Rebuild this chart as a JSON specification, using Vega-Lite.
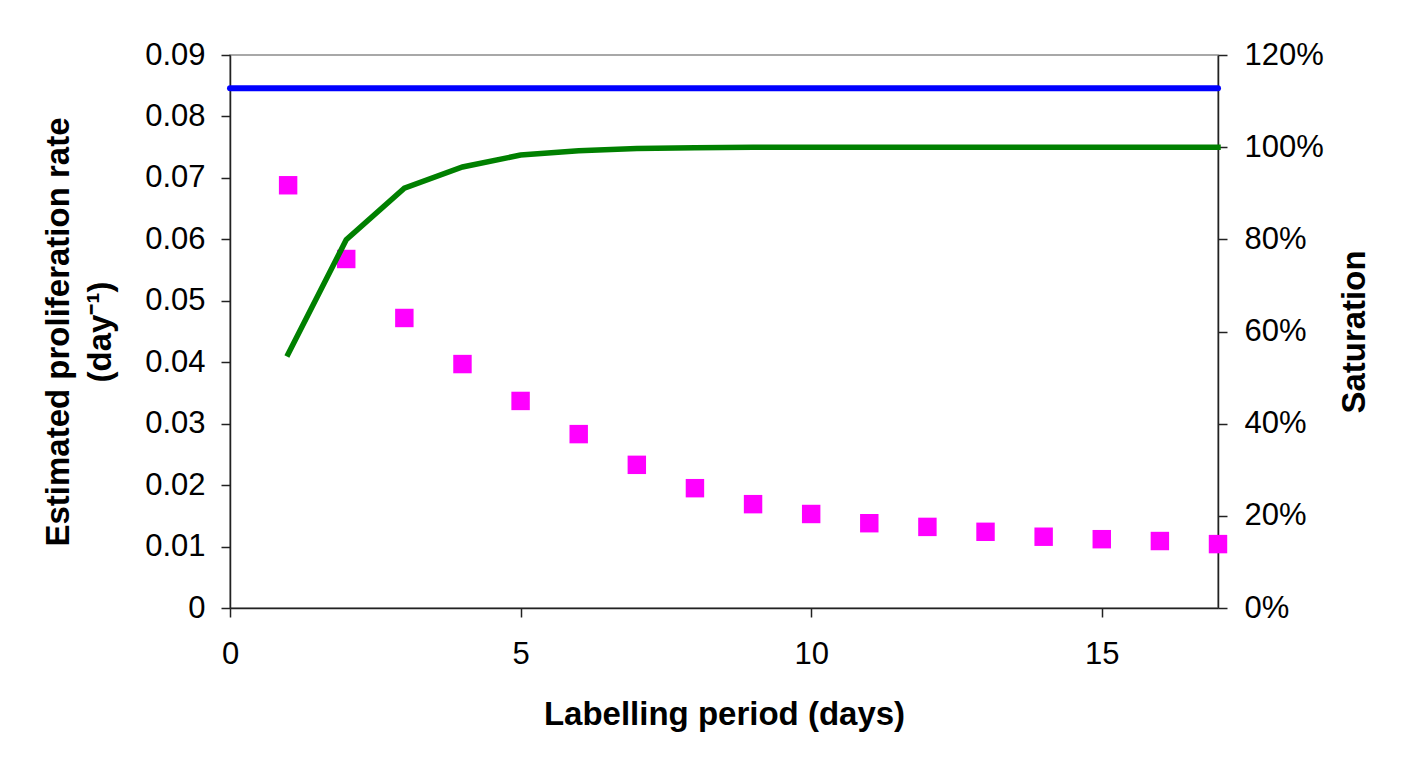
{
  "$schema": "https://vega.github.io/schema/vega-lite/v6.json",
  "autosize": "none",
  "width": 988,
  "height": 553,
  "padding": {"left": 230, "top": 55, "right": 192, "bottom": 153},
  "background": "white",
  "config": {
    "font": "Liberation Sans",
    "view": {"stroke": "#8c8c8c", "strokeWidth": 1.5},
    "axis": {
      "labelFont": "Liberation Sans",
      "labelFontSize": 31,
      "labelColor": "black",
      "titleFont": "Liberation Sans",
      "titleFontSize": 33,
      "titleFontWeight": "bold",
      "titleColor": "black",
      "domainColor": "#222222",
      "domainWidth": 1.5,
      "tickColor": "#222222",
      "tickWidth": 1.5,
      "tickSize": 9,
      "grid": false
    }
  },
  "datasets": {
    "main": [
      {"day": 1, "rate": 0.0688, "saturation": 0.551},
      {"day": 2, "rate": 0.0568, "saturation": 0.799},
      {"day": 3, "rate": 0.0472, "saturation": 0.911},
      {"day": 4, "rate": 0.0397, "saturation": 0.957},
      {"day": 5, "rate": 0.0337, "saturation": 0.983},
      {"day": 6, "rate": 0.0283, "saturation": 0.992},
      {"day": 7, "rate": 0.0233, "saturation": 0.997},
      {"day": 8, "rate": 0.0195, "saturation": 0.999},
      {"day": 9, "rate": 0.0169, "saturation": 1.0},
      {"day": 10, "rate": 0.0153, "saturation": 1.0},
      {"day": 11, "rate": 0.0138, "saturation": 1.0},
      {"day": 12, "rate": 0.0132, "saturation": 1.0},
      {"day": 13, "rate": 0.0124, "saturation": 1.0},
      {"day": 14, "rate": 0.0116, "saturation": 1.0},
      {"day": 15, "rate": 0.0112, "saturation": 1.0},
      {"day": 16, "rate": 0.0109, "saturation": 1.0},
      {"day": 17, "rate": 0.0104, "saturation": 1.0}
    ],
    "baseline": [{"rate": 0.0846}]
  },
  "layer": [
    {
      "layer": [
        {
          "data": {"name": "main"},
          "mark": {"type": "point", "shape": "square", "filled": true, "size": 340, "color": "#ff00ff", "opacity": 1},
          "encoding": {
            "x": {
              "field": "day", "type": "quantitative",
              "scale": {"domain": [0, 17], "nice": false, "zero": true},
              "axis": {
                "values": [0, 5, 10, 15],
                "format": "d",
                "title": "Labelling period (days)",
                "labelPadding": 22,
                "titlePadding": 29,
                "labelFlush": false
              }
            },
            "y": {
              "field": "rate", "type": "quantitative",
              "scale": {"domain": [0, 0.09], "nice": false},
              "axis": {
                "values": [0, 0.01, 0.02, 0.03, 0.04, 0.05, 0.06, 0.07, 0.08, 0.09],
                "labelExpr": "datum.value == 0 ? '0' : format(datum.value, '.2f')",
                "title": ["Estimated proliferation rate", "(day⁻¹)"],
                "titleLineHeight": 42,
                "labelPadding": 16,
                "titlePadding": 27,
                "labelFlush": false
              }
            }
          }
        },
        {
          "data": {"name": "baseline"},
          "mark": {"type": "rule", "color": "#0000ff", "strokeWidth": 6, "strokeCap": "round"},
          "encoding": {"y": {"field": "rate", "type": "quantitative"}}
        }
      ]
    },
    {
      "data": {"name": "main"},
      "mark": {"type": "line", "color": "#008000", "strokeWidth": 5.5, "strokeCap": "square"},
      "encoding": {
        "x": {"field": "day", "type": "quantitative"},
        "y": {
          "field": "saturation", "type": "quantitative",
          "scale": {"domain": [0, 1.2], "nice": false},
          "axis": {
            "orient": "right",
            "values": [0, 0.2, 0.4, 0.6, 0.8, 1.0, 1.2],
            "format": ".0%",
            "title": "Saturation",
            "titleAngle": 270,
            "labelPadding": 17,
            "titlePadding": 48,
            "labelFlush": false
          }
        }
      }
    }
  ],
  "resolve": {"scale": {"y": "independent"}}
}
